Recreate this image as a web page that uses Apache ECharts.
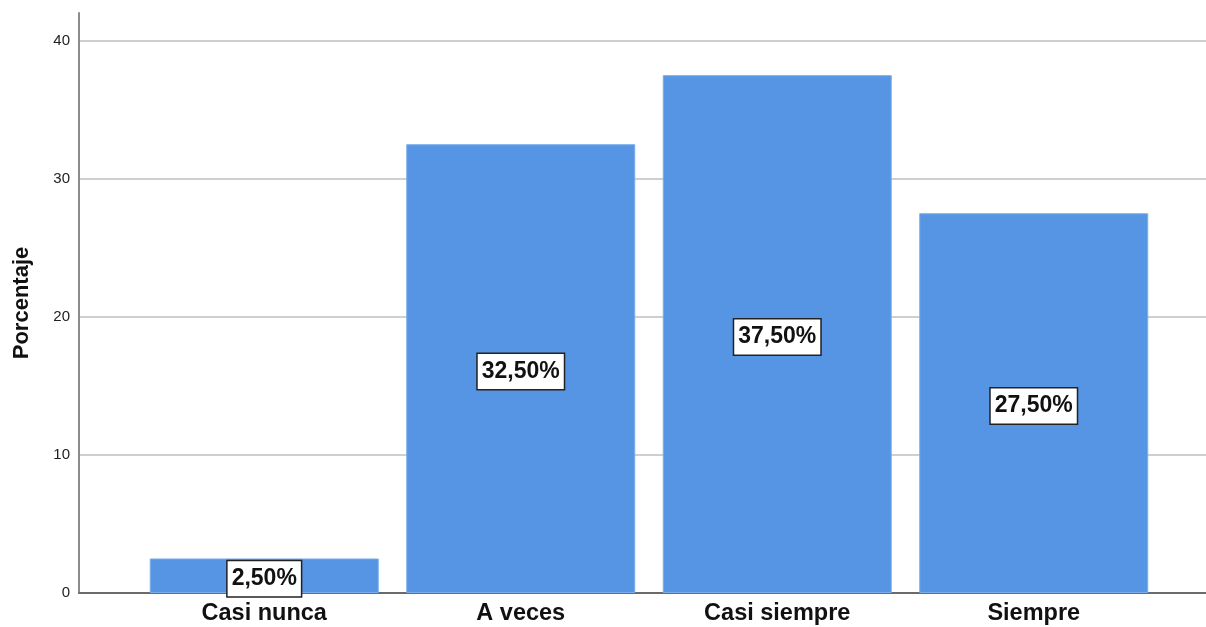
<!DOCTYPE html>
<html><head><meta charset="utf-8">
<script src="https://cdn.jsdelivr.net/npm/echarts@6/dist/echarts.min.js"></script>
<style>html,body{margin:0;padding:0;background:#fff}#c{width:1206px;height:627px}</style>
</head><body><div id="c"></div>
<script>
const categories = ["Casi nunca", "A veces", "Casi siempre", "Siempre"];
const percentages = [2.5, 32.5, 37.5, 27.5];
const yTicks = [0, 10, 20, 30, 40];
const yMax = 42;

const font = '"Liberation Sans", Arial, sans-serif';
const chart = echarts.init(document.getElementById('c'));
chart.setOption({
  animation: false,
  backgroundColor: '#fff',
  grid: [
    {left: 136, right: 44, top: 13, bottom: 34, containLabel: false, outerBoundsMode: 'none'},
    {left: 79, right: 0, top: 13, bottom: 34, containLabel: false, outerBoundsMode: 'none'}
  ],
  xAxis: [
    {gridIndex: 0, type: 'category', data: categories,
     axisLine: {show: false}, axisTick: {show: false},
     axisLabel: {fontFamily: font, fontSize: 23.5, fontWeight: 'bold', color: '#111', margin: 9}},
    {gridIndex: 1, type: 'value', min: 0, max: 1,
     axisLine: {show: true, lineStyle: {color: '#6b6b6b', width: 2}},
     axisTick: {show: false}, axisLabel: {show: false}, splitLine: {show: false}}
  ],
  yAxis: [
    {gridIndex: 0, type: 'value', min: 0, max: yMax, show: false, splitLine: {show: false}},
    {gridIndex: 1, type: 'value', min: 0, max: yMax, interval: 10,
     name: 'Porcentaje', nameLocation: 'middle', nameGap: 46,
     nameTextStyle: {fontFamily: font, fontSize: 22, fontWeight: 'bold', color: '#111'},
     axisLine: {show: true, lineStyle: {color: '#8c8c8c', width: 2}},
     axisTick: {show: false},
     axisLabel: {fontFamily: font, fontSize: 15, color: '#222', margin: 9,
       formatter: v => yTicks.includes(v) ? String(v) : ''},
     splitLine: {show: true, showMaxLine: false, lineStyle: {color: '#cfcfcf', width: 2}}}
  ],
  series: [{
    type: 'bar', xAxisIndex: 0, yAxisIndex: 0,
    data: percentages, barWidth: 229, z: 5,
    itemStyle: {color: '#5595e3', borderColor: '#7aaeea', borderWidth: 1},
    label: {show: true, position: 'inside', offset: [0, 3],
      formatter: p => p.value.toFixed(2).replace('.', ',') + '%',
      fontFamily: font, fontSize: 23, fontWeight: 'bold', color: '#111',
      backgroundColor: '#fff', borderColor: '#222', borderWidth: 1.5,
      padding: [7, 4, 5, 4]}
  }]
});
</script></body></html>
